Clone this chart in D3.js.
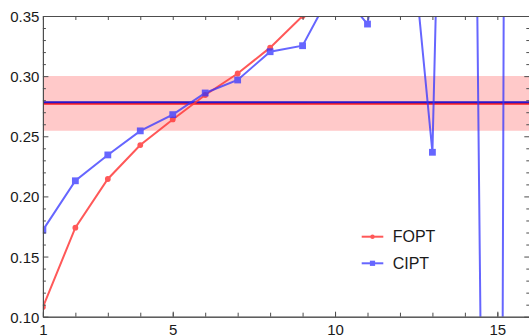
<!DOCTYPE html>
<html><head><meta charset="utf-8">
<script src="https://cdn.jsdelivr.net/npm/d3@7"></script>
<style>
body{margin:0;background:#fff;}
svg{display:block;font-family:"Liberation Sans",Arial,sans-serif;}
</style></head>
<body><svg id="c" width="529" height="336"></svg>
<script>
// ---- data ----
const xFOPT = [1, 2, 3, 4, 5, 6, 7, 8, 9];
const yFOPT = [0.108, 0.174, 0.2145, 0.2427, 0.2640, 0.2843, 0.3022, 0.3237, 0.3500];
const xCIPT = [1, 2, 3, 4, 5, 6, 7, 8, 9, 10, 11, 12, 13, 14, 15, 16];
const yCIPT = [0.172, 0.2130, 0.2345, 0.2545, 0.2680, 0.2860, 0.2968, 0.3203, 0.3253, 0.3757, 0.3433, 0.517, 0.2367, 1.359, -1.27, 7.03];
const refBlue = 0.2783;
const refRed = 0.2771;
const bandRange = [0.2546, 0.3001];
const xMajorTicks = [1, 5, 10, 15];
const xMinorTicks = [1,2,3,4,5,6,7,8,9,10,11,12,13,14,15];
const yMajorTicks = [0.10, 0.15, 0.20, 0.25, 0.30, 0.35];
const legendLabels = ["FOPT", "CIPT"];

// ---- layout ----
const svg = d3.select("#c");
const L = 42.9, R = 529.8, T = 16, B = 316.7;
const x = d3.scaleLinear().domain([1, 16]).range([L, R]);
const y = d3.scaleLinear().domain([0.10, 0.35]).range([B, T]);
const yMinor = d3.range(0.10, 0.3501, 0.01).map(v => +v.toFixed(3)).filter(v => !yMajorTicks.some(m => Math.abs(m - v) < 1e-6));
const axisColor = "#4d4d4d";
const redC = "#ff3c3c", blueC = "#3333ff";

svg.append("defs").append("clipPath").attr("id", "clip")
  .append("rect").attr("x", L).attr("y", T).attr("width", R - L).attr("height", B - T);

const plot = svg.append("g").attr("clip-path", "url(#clip)");

// band
plot.append("rect")
  .attr("x", L).attr("width", R - L)
  .attr("y", y(bandRange[1])).attr("height", y(bandRange[0]) - y(bandRange[1]))
  .attr("fill", "#ffc9c9");

// reference lines
plot.append("line").attr("x1", L).attr("x2", R).attr("y1", y(refRed)).attr("y2", y(refRed))
  .attr("stroke", "#ff1e1e").attr("stroke-width", 2);
plot.append("line").attr("x1", L).attr("x2", R).attr("y1", y(refBlue)).attr("y2", y(refBlue))
  .attr("stroke", "#2a16c8").attr("stroke-width", 2);

const line = d3.line().x(d => x(d[0])).y(d => y(d[1]));
const fopt = xFOPT.map((v, i) => [v, yFOPT[i]]);
const cipt = xCIPT.map((v, i) => [v, yCIPT[i]]);

const gF = plot.append("g").attr("opacity", 0.85);
gF.append("path").datum(fopt).attr("d", line).attr("fill", "none").attr("stroke", redC).attr("stroke-width", 2);
gF.selectAll("circle").data(fopt).join("circle")
  .attr("cx", d => x(d[0])).attr("cy", d => y(d[1])).attr("r", 2.9).attr("fill", redC);

const gC = plot.append("g").attr("opacity", 0.75);
gC.append("path").datum(cipt).attr("d", line).attr("fill", "none").attr("stroke", blueC).attr("stroke-width", 2);
gC.selectAll("rect").data(cipt).join("rect")
  .attr("x", d => x(d[0]) - 3.4).attr("y", d => y(d[1]) - 3.4).attr("width", 6.8).attr("height", 6.8).attr("fill", blueC);

// ---- axes ----
function styleAxis(g) {
  g.selectAll("path.domain").attr("stroke", axisColor).attr("stroke-width", 1);
  g.selectAll(".tick line").attr("stroke", axisColor).attr("stroke-width", 1);
  g.selectAll(".tick text").attr("fill", "#1a1a1a").attr("font-size", 15).attr("font-family", "Liberation Sans, Arial, sans-serif");
}
// bottom
svg.append("g").attr("transform", `translate(0,${B})`)
  .call(d3.axisBottom(x).tickValues(xMinorTicks).tickSizeInner(-4).tickSizeOuter(0).tickFormat(""))
  .call(styleAxis);
svg.append("g").attr("transform", `translate(0,${B})`)
  .call(d3.axisBottom(x).tickValues(xMajorTicks).tickSizeInner(-5).tickSizeOuter(0).tickPadding(8).tickFormat(d3.format("d")))
  .call(styleAxis);
// top
svg.append("g").attr("transform", `translate(0,${T})`)
  .call(d3.axisTop(x).tickValues(xMinorTicks).tickSizeInner(-4).tickSizeOuter(0).tickFormat(""))
  .call(styleAxis);
// left
svg.append("g").attr("transform", `translate(${L},0)`)
  .call(d3.axisLeft(y).tickValues(yMinor).tickSizeInner(-3).tickSizeOuter(0).tickFormat(""))
  .call(styleAxis);
svg.append("g").attr("transform", `translate(${L},0)`)
  .call(d3.axisLeft(y).tickValues(yMajorTicks).tickSizeInner(-5.5).tickSizeOuter(0).tickPadding(3.5).tickFormat(d3.format(".2f")))
  .call(styleAxis)
  .call(g => g.selectAll(".tick text").attr("dy", "0.37em"));
// right
svg.append("g").attr("transform", `translate(${R - 0.5},0)`)
  .call(d3.axisRight(y).tickValues(yMinor).tickSizeInner(-3).tickSizeOuter(0).tickFormat(""))
  .call(styleAxis);
svg.append("g").attr("transform", `translate(${R - 0.5},0)`)
  .call(d3.axisRight(y).tickValues(yMajorTicks).tickSizeInner(-5).tickSizeOuter(0).tickFormat(""))
  .call(styleAxis);

// ---- legend ----
const leg = svg.append("g");
const legY = [236.7, 263.3];
const legColors = [redC, blueC];
const legOp = [0.85, 0.75];
legendLabels.forEach((lab, i) => {
  const g = leg.append("g").attr("opacity", legOp[i]);
  g.append("line").attr("x1", 361.7).attr("x2", 383.3).attr("y1", legY[i]).attr("y2", legY[i])
    .attr("stroke", legColors[i]).attr("stroke-width", 2);
  if (i === 0) g.append("circle").attr("cx", 372.5).attr("cy", legY[i]).attr("r", 2.2).attr("fill", legColors[i]);
  else g.append("rect").attr("x", 372.5 - 2.6).attr("y", legY[i] - 2.6).attr("width", 5.2).attr("height", 5.2).attr("fill", legColors[i]);
  leg.append("text").attr("x", 392.7).attr("y", legY[i]).attr("dy", "0.36em")
    .attr("font-size", 16).attr("fill", "#1a1a1a").text(lab);
});
</script></body></html>
